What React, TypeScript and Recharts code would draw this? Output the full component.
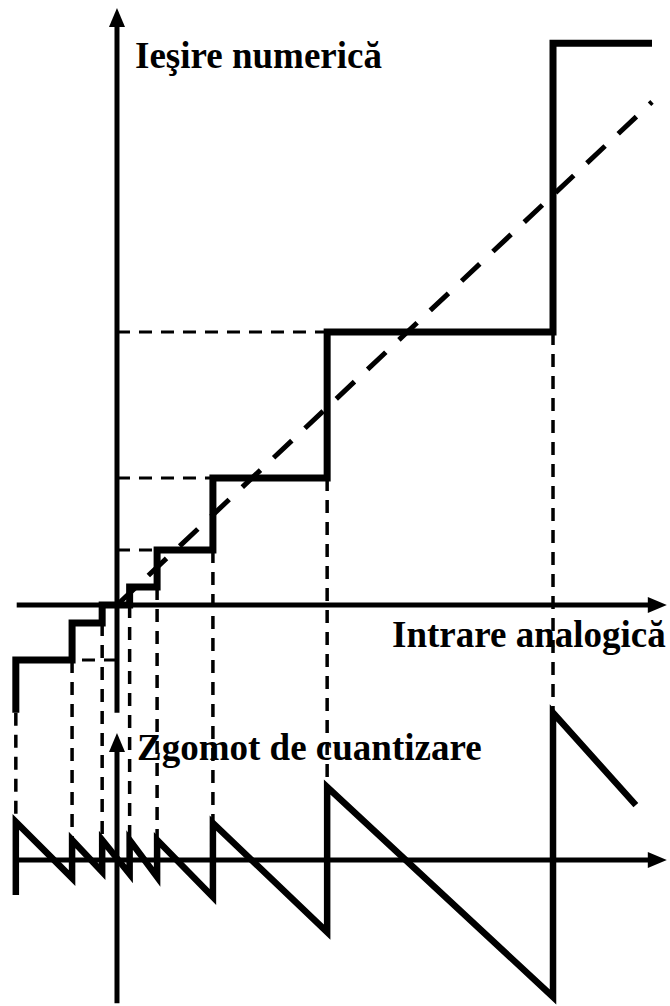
import { LineChart, Line, XAxis, YAxis, ReferenceLine } from "recharts";

// quantizer transfer curve (input -> numeric output)
const STAIR_X = [-23.2, -23.2, -10.3, -10.3, -3.4, -3.4, 2.9, 2.9, 9.2, 9.2, 22, 22, 48.2, 48.2, 100, 100, 122.7];
const STAIR_Y = [-26.3, -13.4, -13.4, -4.4, -4.4, 0, 0, 4.4, 4.4, 13.4, 13.4, 31, 31, 66.6, 66.6, 137, 137];

// ideal (linear) response
const IDEAL_X = [0, 122.7];
const IDEAL_Y = [0, 122.7];

// quantization noise sawtooth
const NOISE_X = [-23.2, -23.2, -10.3, -10.3, -3.4, -3.4, 2.9, 2.9, 9.2, 9.2, 22, 22, 48.2, 48.2, 100, 100, 119];
const NOISE_Y = [-8.5, 9.3, -4.4, 4.9, -2.9, 4.9, -3.4, 4.9, -4.1, 4.9, -9.0, 9.0, -17.6, 17.8, -33.4, 35.9, 13.4];

// vertical dashed guides: threshold, staircase level above, noise peak below
const GUIDE_X = [-23.2, -10.3, -3.4, 2.9, 9.2, 22, 48.2, 100];
const GUIDE_TOP = [-26.3, -13.4, -4.4, 0, 4.4, 13.4, 31, 66.6];
const GUIDE_NOISE = [9.3, 4.9, 4.9, 4.9, 4.9, 9.0, 17.8, 35.9];

// horizontal dashed guides from the output axis to the step
const LEVEL_Y = [66.6, 31, 13.4, -13.4];
const LEVEL_X = [48.2, 22, 9.2, -10.3];

const X_DOMAIN: [number, number] = [-26.83, 126.83];
const Y_DOMAIN: [number, number] = [-97.8, 147.56];
// noise zero line sits at this output value
const NOISE_ZERO = -62.2;
const NOISE_DOMAIN: [number, number] = [Y_DOMAIN[0] - NOISE_ZERO, Y_DOMAIN[1] - NOISE_ZERO];

const W = 670;
const H = 1006;
const INK = "#000";
const FONT = "'Liberation Serif', 'Times New Roman', serif";

const toPts = (xs: number[], ys: number[]) => xs.map((x, i) => ({ x, y: ys[i] }));

const Arrow = (p: any) => {
  const { x1, y1, x2, y2 } = p;
  const len = Math.hypot(x2 - x1, y2 - y1) || 1;
  const ux = (x2 - x1) / len;
  const uy = (y2 - y1) / len;
  const hl = 19;
  const hw = 8;
  const bx = x2 - ux * hl;
  const by = y2 - uy * hl;
  const pts = `${x2},${y2} ${bx - uy * hw},${by + ux * hw} ${bx + uy * hw},${by - ux * hw}`;
  return (
    <g>
      <line x1={x1} y1={y1} x2={bx + ux} y2={by + uy} stroke={INK} strokeWidth={5} />
      <polygon points={pts} fill={INK} />
    </g>
  );
};

export default function App() {
  return (
    <div style={{ position: "absolute", left: 0, top: 0, width: W, height: H, background: "#fff" }}>
      <LineChart width={W} height={H} margin={{ top: 0, right: 0, bottom: 0, left: 0 }}>
        <XAxis type="number" dataKey="x" domain={X_DOMAIN} allowDataOverflow hide />
        <YAxis yAxisId="out" type="number" dataKey="y" domain={Y_DOMAIN} allowDataOverflow hide />
        <YAxis yAxisId="noise" type="number" dataKey="y" domain={NOISE_DOMAIN} allowDataOverflow hide />

        {GUIDE_X.map((x, i) => (
          <ReferenceLine
            key={`gv${i}`}
            yAxisId="out"
            segment={[{ x, y: GUIDE_TOP[i] }, { x, y: GUIDE_NOISE[i] + NOISE_ZERO }]}
            stroke={INK}
            strokeWidth={3.5}
            strokeDasharray="13 9"
          />
        ))}
        {LEVEL_Y.map((y, i) => (
          <ReferenceLine
            key={`gh${i}`}
            yAxisId="out"
            segment={[{ x: 0, y }, { x: LEVEL_X[i], y }]}
            stroke={INK}
            strokeWidth={3}
            strokeDasharray="13 9"
          />
        ))}

        {/* axes with arrow heads */}
        <ReferenceLine yAxisId="out" segment={[{ x: 0, y: -26.3 }, { x: 0, y: 145.6 }]} shape={Arrow} />
        <ReferenceLine yAxisId="out" segment={[{ x: -23, y: 0 }, { x: 126.1, y: 0 }]} shape={Arrow} />
        <ReferenceLine yAxisId="noise" segment={[{ x: 0, y: -34.9 }, { x: 0, y: 31 }]} shape={Arrow} />
        <ReferenceLine yAxisId="noise" segment={[{ x: -23.4, y: 0 }, { x: 126.1, y: 0 }]} shape={Arrow} />

        <Line
          yAxisId="out"
          data={toPts(IDEAL_X, IDEAL_Y)}
          dataKey="y"
          type="linear"
          stroke={INK}
          strokeWidth={5}
          strokeDasharray="25 18"
          dot={false}
          activeDot={false}
          isAnimationActive={false}
        />
        <Line
          yAxisId="out"
          data={toPts(STAIR_X, STAIR_Y)}
          dataKey="y"
          type="linear"
          stroke={INK}
          strokeWidth={7}
          strokeLinejoin="miter"
          strokeLinecap="butt"
          dot={false}
          activeDot={false}
          isAnimationActive={false}
        />
        <Line
          yAxisId="noise"
          data={toPts(NOISE_X, NOISE_Y)}
          dataKey="y"
          type="linear"
          stroke={INK}
          strokeWidth={6.5}
          strokeLinejoin="miter"
          strokeLinecap="butt"
          dot={false}
          activeDot={false}
          isAnimationActive={false}
        />

        <text x={135} y={68} fontFamily={FONT} fontWeight="bold" fontSize={37} fill={INK}>
          Ieşire numerică
        </text>
        <text x={392} y={647} fontFamily={FONT} fontWeight="bold" fontSize={37} fill={INK}>
          Intrare analogică
        </text>
        <text x={137} y={760} fontFamily={FONT} fontWeight="bold" fontSize={37} fill={INK}>
          Zgomot de cuantizare
        </text>
      </LineChart>
    </div>
  );
}
